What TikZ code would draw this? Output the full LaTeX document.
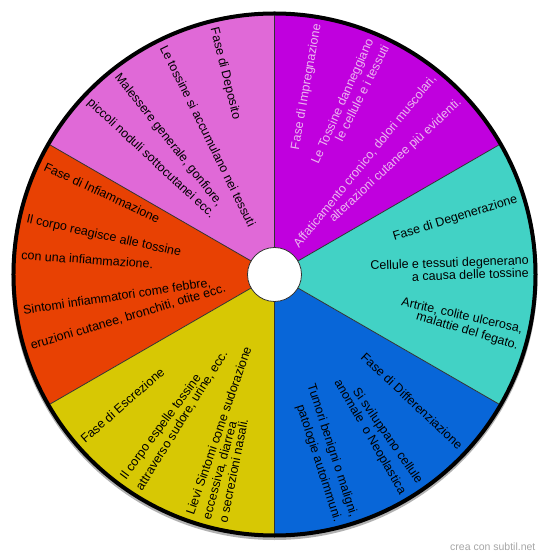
\documentclass[tikz,border=0pt]{standalone}
\usepackage{fontspec}
\setmainfont{Liberation Sans}
\definecolor{cPink}{RGB}{224,105,215}
\definecolor{cPurple}{RGB}{192,0,222}
\definecolor{cCyan}{RGB}{66,210,197}
\definecolor{cBlue}{RGB}{8,102,216}
\definecolor{cYellow}{RGB}{215,200,4}
\definecolor{cOrange}{RGB}{232,65,3}
\definecolor{cLav}{RGB}{236,184,240}
\begin{document}
\begin{tikzpicture}[x=1pt,y=1pt,
  lbl/.style={font=\fontsize{12.5}{14}\selectfont, inner sep=0pt},
  rt/.style={lbl, anchor=mid east, rotate=#1},
  lt/.style={lbl, anchor=mid west, rotate=#1-180},
  sep/.style={draw=black!80, line width=0.8pt}]
\useasboundingbox (-274.5,-284.5) rectangle (275.5,274.5);
% shadow
\draw[black!30, line width=4pt] (0,-2.5) circle[radius=261pt];
% sectors
\fill[cPurple] (0,0) -- (30:261pt) arc[start angle=30,end angle=90,radius=261pt] -- cycle;
\fill[cPink] (0,0) -- (90:261pt) arc[start angle=90,end angle=150,radius=261pt] -- cycle;
\fill[cOrange] (0,0) -- (150:261pt) arc[start angle=150,end angle=210,radius=261pt] -- cycle;
\fill[cYellow] (0,0) -- (210:261pt) arc[start angle=210,end angle=270,radius=261pt] -- cycle;
\fill[cBlue] (0,0) -- (270:261pt) arc[start angle=270,end angle=330,radius=261pt] -- cycle;
\fill[cCyan] (0,0) -- (-30:261pt) arc[start angle=-30,end angle=30,radius=261pt] -- cycle;
\foreach \a in {30,90,150,210,270,330} \draw[sep] (\a:27pt) -- (\a:259pt);
\draw[black, line width=4pt] (0,0) circle[radius=261pt];
\draw[fill=white, draw=black!80, line width=0.8pt] (0,0) circle[radius=27pt];
% Pink: Deposito
\node[lt=104] (p1) at (104:254pt) {Fase di Deposito};
\node[lt=116.3] (p2) at (116.3:254pt) {Le tossine si accumulano nei tessuti};
\node[lt=128.5] (p3) at (128.5:254pt) {Malessere generale, gonfiore,};
\node[lt=137.1] (p4) at (137.1:254pt) {piccoli noduli sottocutanei ecc.};
% Purple: Impregnazione
\begin{scope}[every node/.append style={text=cLav}]
\node[rt=80.1] (i1) at (80.1:254pt) {Fase di Impregnazione};
\node[rt=66] (i2) at (67.6:254pt) {Le Tossine danneggiano};
\node[rt=63.5] (i3) at (63.7:254pt) {le cellule e i tessuti};
\node[rt=50.9] (i4) at (50.9:254pt) {Affaticamento cronico, dolori muscolari,};
\node[rt=43] (i5) at (43:254pt) {alterazioni cutanee più evidenti.};
\end{scope}
% Cyan: Degenerazione
\node[rt=17] (d1) at (17:254pt) {Fase di Degenerazione};
\node[rt=2] (d2) at (254.5,12.8) {Cellule e tessuti degenerano};
\node[rt=2] (d3) at (254.5,0.2) {a causa delle tossine};
\node[rt=-12.7] (d4) at (-12.7:254pt) {Artrite, colite ulcerosa,};
\node[rt=-16.6] (d5) at (-16.6:254pt) {malattie del fegato.};
% Blue: Differenziazione
\node[rt=-43.2] (f1) at (-43.2:254pt) {Fase di Differenziazione};
\node[rt=-55.3] (f2) at (-55.3:254pt) {Si sviluppano cellule};
\node[rt=-59.8] (f3) at (-59.8:254pt) {anomale\ \ o Neoplastica};
\node[rt=-72] (f4) at (78.5,-242.5) {Tumori benigni o maligni,};
\node[rt=-72] (f5) at (62.5,-247.5) {patologie autoimmuni.};
% Yellow: Escrezione
\node[lt=221.2] (e1) at (221.2:254pt) {Fase di Escrezione};
\node[lt=233.6] (e2) at (233.6:254pt) {Il corpo espelle tossine};
\node[lt=238] (e3) at (238:254pt) {attraverso sudore, urine, ecc.};
\node[lt=250.9] (e4) at (250.9:254pt) {Lievi Sintomi come sudorazione};
\node[lt=254.8] (e5) at (254.8:254pt) {eccessiva, diarrea};
\node[lt=258.7] (e6) at (258.7:254pt) {o secrezioni nasali.};
% Orange: Infiammazione
\node[lt=155.1] (a1) at (155.1:254pt) {Fase di Infiammazione};
\node[lt=167.6] (a2) at (167.6:254pt) {Il corpo reagisce alle tossine};
\node[lt=176] (a3) at (176:254pt) {con una infiammazione.};
\node[lt=188.5] (a4) at (188.5:254pt) {Sintomi infiammatori come febbre,};
\node[lt=196.6] (a5) at (196.6:254pt) {eruzioni cutanee, bronchiti, otite ecc.};
% watermark
\node[font=\fontsize{10.5}{12}\selectfont, text=black!35, anchor=west, inner sep=0pt] (wm) at (175.5,-272.5) {crea con subtil.net};
\end{tikzpicture}
\end{document}
